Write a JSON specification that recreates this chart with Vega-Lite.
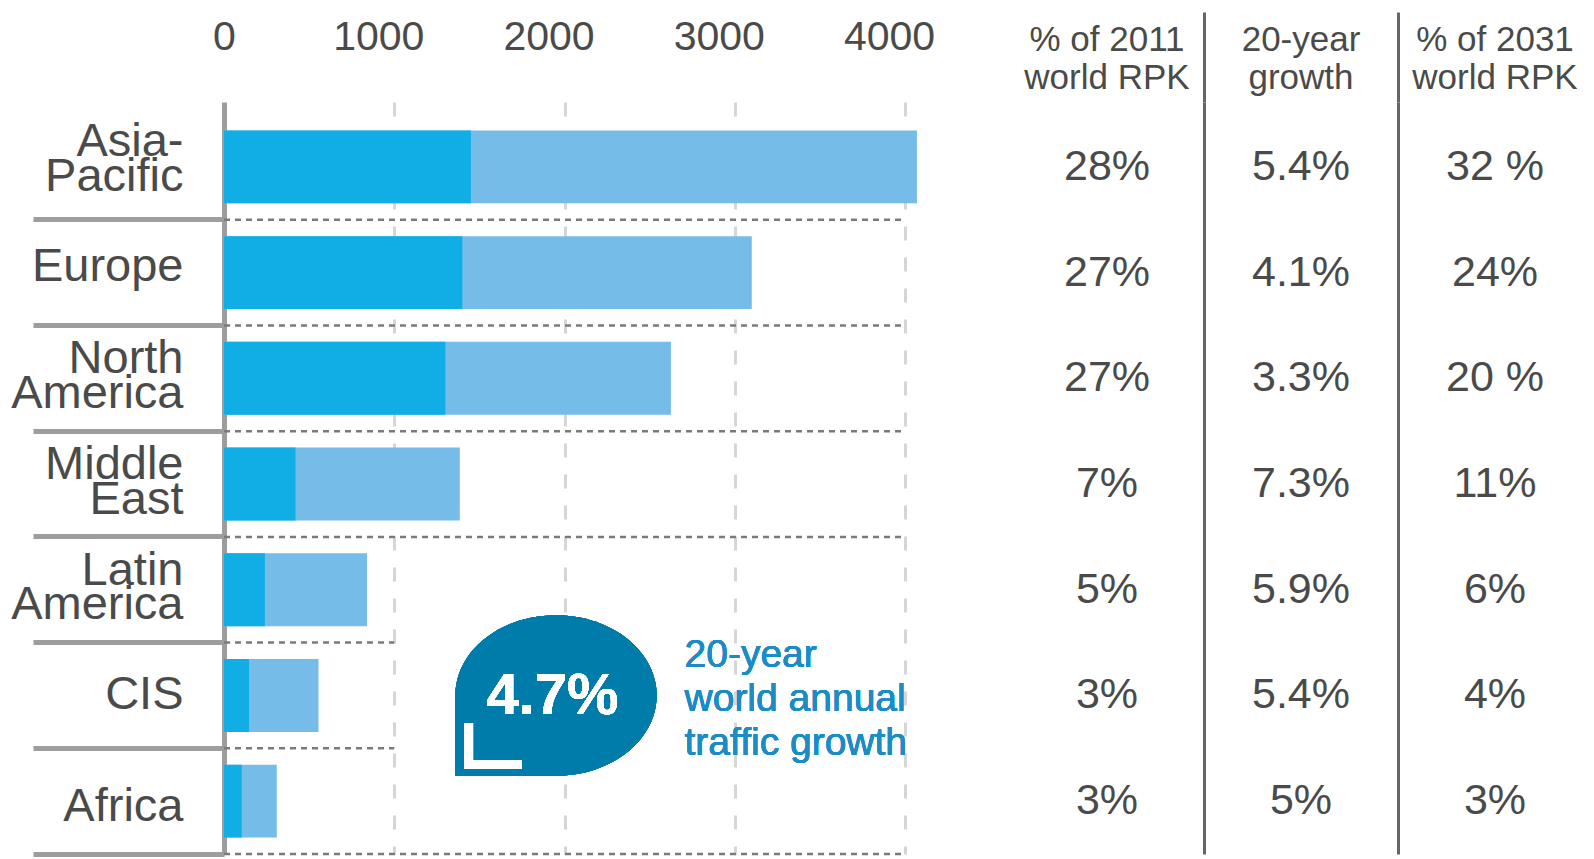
{
  "$schema": "https://vega.github.io/schema/vega-lite/v6.json",
  "background": "white",
  "autosize": {"type": "none"},
  "padding": {"left": 224, "top": 102, "right": 2, "bottom": 5},
  "config": {
    "font": "Liberation Sans",
    "view": {"stroke": null},
    "axis": {"labelFont": "Liberation Sans", "labelColor": "#4a4a4a"}
  },
  "data": {
    "values": [
      {"region": "Asia-Pacific", "rpk2011": 1450, "rpk2031": 4070, "share2011": "28%", "growth": "5.4%", "share2031": "32 %"},
      {"region": "Europe", "rpk2011": 1400, "rpk2031": 3100, "share2011": "27%", "growth": "4.1%", "share2031": "24%"},
      {"region": "North America", "rpk2011": 1300, "rpk2031": 2625, "share2011": "27%", "growth": "3.3%", "share2031": "20 %"},
      {"region": "Middle East", "rpk2011": 420, "rpk2031": 1385, "share2011": "7%", "growth": "7.3%", "share2031": "11%"},
      {"region": "Latin America", "rpk2011": 240, "rpk2031": 840, "share2011": "5%", "growth": "5.9%", "share2031": "6%"},
      {"region": "CIS", "rpk2011": 147, "rpk2031": 555, "share2011": "3%", "growth": "5.4%", "share2031": "4%"},
      {"region": "Africa", "rpk2011": 104, "rpk2031": 310, "share2011": "3%", "growth": "5%", "share2031": "3%"}
    ]
  },
  "width": 1368,
  "height": 752,
  "resolve": {"scale": {"x": "independent"}, "axis": {"x": "independent"}},
  "layer": [
    {
      "encoding": {
        "y": {
          "field": "region", "type": "nominal", "title": null,
          "sort": ["Asia-Pacific", "Europe", "North America", "Middle East", "Latin America", "CIS", "Africa"],
          "scale": {"type": "band", "paddingInner": 0, "paddingOuter": 0.057, "align": 1},
          "axis": {
            "bandPosition": 1,
            "domainColor": "#9d9d9f", "domainWidth": 5,
            "ticks": true, "tickColor": "#9d9d9f", "tickWidth": 5, "tickSize": 191,
            "labelExpr": "datum.value == 'Asia-Pacific' ? ['Asia-', 'Pacific'] : split(datum.value, ' ')",
            "labelFontSize": 47, "labelLineHeight": 34.6, "labelAlign": "right", "labelBaseline": "middle",
            "labelOffset": {"condition": [
              {"test": "datum.value == 'Asia-Pacific'", "value": -25},
              {"test": "indexof(datum.value, ' ') >= 0", "value": -19},
              {"test": "datum.value == 'Europe'", "value": -6},
              {"test": "datum.value == 'Africa'", "value": 6}
            ], "value": 0},
            "labelPadding": -150, "grid": false
          }
        }
      },
      "layer": [
        {
          "mark": {"type": "bar", "color": "#76bce8", "height": {"band": 0.69}},
          "encoding": {
            "x": {
              "field": "rpk2031", "type": "quantitative", "title": null,
              "scale": {"domain": [0, 4000], "nice": false, "zero": true, "range": [0, 681]},
              "axis": {
                "orient": "top", "values": [0, 1000, 2000, 3000, 4000], "format": "d",
                "domain": false, "ticks": false, "labelFlush": false,
                "grid": true, "gridDash": [14, 17], "gridWidth": 3,
                "gridColor": {"condition": {"test": "datum.value == 0", "value": "transparent"}, "value": "#d6d6d6"},
                "labelFontSize": 41, "labelBaseline": "alphabetic", "labelPadding": 53,
                "labelOffset": {"condition": {"test": "datum.value == 0", "value": 0}, "value": -16}
              }
            }
          }
        },
        {
          "mark": {"type": "bar", "color": "#10aee4", "height": {"band": 0.69}},
          "encoding": {
            "x": {"field": "rpk2011", "type": "quantitative"}
          }
        },
        {
          "transform": [{"filter": {"field": "region", "oneOf": ["Europe", "North America", "Middle East", "Latin America"]}}],
          "mark": {"type": "rule", "color": "#7a7a7a", "strokeWidth": 2.5, "strokeDash": [6, 5]},
          "encoding": {
            "y": {"field": "region", "type": "nominal", "bandPosition": 0, "sort": ["Asia-Pacific", "Europe", "North America", "Middle East", "Latin America", "CIS", "Africa"]},
            "x": {"datum": 0},
            "x2": {"datum": 4000}
          }
        },
        {
          "transform": [{"filter": {"field": "region", "oneOf": ["CIS", "Africa"]}}],
          "mark": {"type": "rule", "color": "#7a7a7a", "strokeWidth": 2.5, "strokeDash": [6, 5]},
          "encoding": {
            "y": {"field": "region", "type": "nominal", "bandPosition": 0, "sort": ["Asia-Pacific", "Europe", "North America", "Middle East", "Latin America", "CIS", "Africa"]},
            "x": {"datum": 0},
            "x2": {"datum": 1000}
          }
        },
        {
          "transform": [{"filter": {"field": "region", "equal": "Africa"}}],
          "mark": {"type": "rule", "color": "#7a7a7a", "strokeWidth": 2.5, "strokeDash": [6, 5]},
          "encoding": {
            "y": {"field": "region", "type": "nominal", "bandPosition": 1, "sort": ["Asia-Pacific", "Europe", "North America", "Middle East", "Latin America", "CIS", "Africa"]},
            "x": {"datum": 0},
            "x2": {"datum": 4000}
          }
        },
        {
          "mark": {
            "type": "point", "filled": true, "color": "#007caa", "opacity": 1, "size": 41340, "strokeWidth": 0,
            "shape": "M -0.99 0 C -0.99 -0.436 -0.547 -0.79 0 -0.79 C 0.547 -0.79 0.99 -0.436 0.99 0 C 0.99 0.436 0.547 0.79 0 0.79 L -0.99 0.79 Z"
          },
          "encoding": {
            "x": {"datum": 1950},
            "y": {"datum": "CIS"}
          }
        },
        {
          "mark": {
            "type": "point", "filled": false, "color": "white", "opacity": 1, "size": 41340, "strokeWidth": 9,
            "strokeCap": "butt", "strokeJoin": "miter",
            "shape": "M -0.86 0.27 L -0.86 0.68 L -0.34 0.68"
          },
          "encoding": {
            "x": {"datum": 1950},
            "y": {"datum": "CIS"}
          }
        },
        {
          "mark": {"type": "text", "color": "white", "fontSize": 58, "fontWeight": "bold", "align": "center", "baseline": "middle", "dy": 2},
          "encoding": {
            "x": {"datum": 1930},
            "y": {"datum": "CIS"},
            "text": {"value": "4.7%"}
          }
        },
        {
          "mark": {"type": "text", "color": "#1b8cc6", "fontSize": 39, "lineHeight": 43.7, "lineBreak": "\n", "align": "left", "baseline": "middle", "dy": -40},
          "encoding": {
            "x": {"datum": 2705},
            "y": {"datum": "CIS"},
            "text": {"value": "20-year\nworld annual\ntraffic growth"}
          }
        }
      ]
    },
    {
      "transform": [{"fold": ["share2011", "growth", "share2031"], "as": ["col", "val"]}],
      "mark": {"type": "text", "fontSize": 43, "color": "#4a4a4a", "align": "center", "baseline": "middle"},
      "encoding": {
        "y": {
          "field": "region", "type": "nominal",
          "sort": ["Asia-Pacific", "Europe", "North America", "Middle East", "Latin America", "CIS", "Africa"]
        },
        "x": {
          "field": "col", "type": "nominal", "title": null,
          "sort": ["share2011", "growth", "share2031"],
          "scale": {"type": "band", "paddingInner": 0, "paddingOuter": 0, "range": [786, 1368]},
          "axis": {
            "orient": "top", "bandPosition": 1, "domain": false,
            "ticks": true, "tickSize": 90, "tickWidth": 3,
            "tickColor": {"condition": {"test": "datum.value == 'share2031'", "value": "transparent"}, "value": "#666666"},
            "grid": true, "gridWidth": 3,
            "gridColor": {"condition": {"test": "datum.value == 'share2031'", "value": "transparent"}, "value": "#666666"},
            "labelExpr": "datum.value == 'share2011' ? ['% of 2011', 'world RPK'] : datum.value == 'growth' ? ['20-year', 'growth'] : ['% of 2031', 'world RPK']",
            "labelFontSize": 35, "labelLineHeight": 38.6, "labelBaseline": "middle", "labelAlign": "center",
            "labelPadding": -27, "labelAngle": 0
          }
        },
        "text": {"field": "val"}
      }
    }
  ]
}
